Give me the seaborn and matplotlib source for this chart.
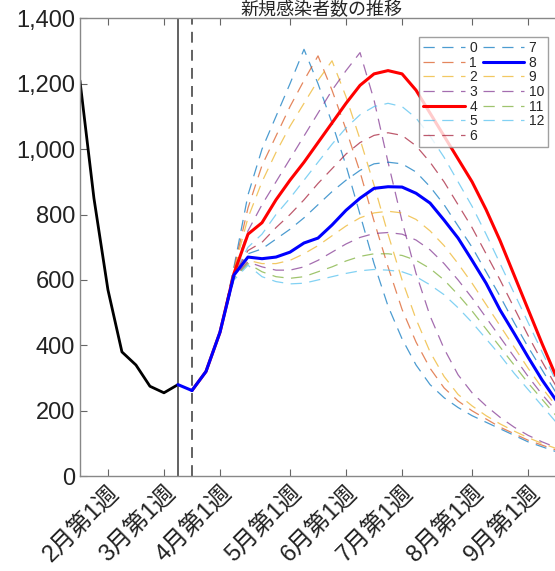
import numpy as np
import pandas as pd
import matplotlib
matplotlib.use("Agg")
import matplotlib.pyplot as plt
import seaborn as sns
from matplotlib.ticker import FuncFormatter

sns.set_style("white")
plt.rcParams['font.family'] = ['Liberation Sans', 'Noto Sans CJK JP', 'DejaVu Sans']

# observed weekly values, week index 0..8
obs_weeks = list(range(0, 9))
observed = [1210, 850, 570, 380, 340, 275, 255, 280, 262]

# scenarios start at week 8
sc_weeks = list(range(8, 35))
common = [262, 320, 440]
scen = {
 '0': common + [640, 860, 1000, 1100, 1200, 1305, 1200, 1080, 950, 800, 650, 520, 420, 340, 280, 240, 210, 185, 165, 145, 125, 105, 90, 75],
 '1': common + [635, 820, 950, 1040, 1130, 1210, 1285, 1180, 1060, 930, 780, 640, 510, 410, 330, 270, 230, 200, 175, 150, 130, 110, 95, 80],
 '2': common + [630, 790, 900, 990, 1070, 1140, 1210, 1270, 1160, 1030, 890, 740, 600, 480, 380, 305, 250, 215, 185, 160, 138, 118, 100, 85],
 '3': common + [625, 750, 830, 900, 970, 1040, 1110, 1180, 1240, 1295, 1150, 960, 780, 620, 490, 390, 310, 255, 215, 180, 150, 125, 105, 88],
 '4': common + [620, 740, 775, 845, 905, 960, 1020, 1080, 1140, 1195, 1230, 1240, 1230, 1180, 1110, 1040, 970, 900, 815, 720, 615, 510, 405, 305],
 '5': common + [620, 700, 740, 800, 850, 905, 960, 1015, 1065, 1105, 1130, 1140, 1130, 1095, 1040, 975, 900, 825, 740, 650, 560, 470, 380, 290],
 '6': common + [615, 690, 715, 760, 800, 845, 895, 940, 985, 1020, 1042, 1050, 1042, 1010, 960, 900, 830, 760, 680, 600, 515, 430, 350, 275],
 '7': common + [612, 680, 695, 725, 755, 790, 830, 870, 905, 935, 955, 960, 955, 930, 885, 830, 765, 700, 625, 550, 470, 395, 325, 255],
 '8': common + [615, 670, 665, 670, 685, 713, 728, 768, 813, 850, 880, 885, 884, 865, 835, 783, 728, 660, 590, 508, 437, 364, 294, 232],
 '9': common + [610, 660, 650, 650, 660, 680, 705, 735, 765, 790, 805, 810, 805, 785, 750, 705, 650, 590, 525, 460, 395, 330, 270, 215],
 '10': common + [608, 655, 640, 630, 630, 640, 660, 685, 710, 730, 742, 745, 740, 722, 692, 650, 600, 545, 485, 425, 365, 305, 250, 200],
 '11': common + [605, 650, 625, 610, 605, 610, 625, 640, 658, 672, 680, 680, 675, 660, 635, 600, 555, 505, 450, 395, 340, 285, 235, 185],
 '12': common + [600, 645, 610, 595, 588, 590, 600, 610, 620, 628, 632, 630, 625, 610, 585, 555, 515, 470, 420, 370, 315, 265, 215, 165],
}
tick_weeks = [2, 6, 10, 15, 19, 23, 28, 32]
tick_labels = ['2月第1週', '3月第1週', '4月第1週', '5月第1週', '6月第1週', '7月第1週', '8月第1週', '9月第1週']

mat = [(0, .447, .741), (.85, .325, .098), (.929, .694, .125), (.494, .184, .556),
       (1, 0, 0), (.301, .745, .933), (.635, .078, .184)]
colors = {'0': mat[0], '1': mat[1], '2': mat[2], '3': mat[3], '4': (1, 0, 0), '5': mat[5],
          '6': mat[6], '7': mat[0], '8': (0, 0, 1), '9': mat[2], '10': mat[3],
          '11': (.466, .674, .188), '12': mat[5]}

fig = plt.figure(figsize=(5.55, 5.71), dpi=100)
ax = fig.add_axes([0.144, 0.166, 0.858, 0.802])

sns.lineplot(x=obs_weeks[:8], y=observed[:8], color='black', lw=2, ax=ax)
for k, v in scen.items():
    if k in ('4', '8'):
        sns.lineplot(x=sc_weeks, y=v, color=colors[k], lw=2.2, ax=ax, label=k, zorder=5)
    else:
        sns.lineplot(x=sc_weeks, y=v, color=colors[k], lw=0.9, ls=(0, (9, 6)), alpha=0.7, ax=ax, label=k)
sns.lineplot(x=[7, 8], y=[280, 262], color=(0, 0, 1), lw=2.2, ax=ax, zorder=5)
ax.axvline(7, color='#555555', lw=1.3)
ax.axvline(8, color='#555555', lw=1.3, ls=(0, (6, 4)))

ax.set_xlim(0, 34)
ax.set_ylim(0, 1400)
ax.set_yticks(range(0, 1401, 200))
ax.yaxis.set_major_formatter(FuncFormatter(lambda v, p: f'{int(v):,}'))
ax.set_xticks(tick_weeks)
ax.set_xticklabels(tick_labels, rotation=45, ha='right', rotation_mode='anchor')
ax.tick_params(axis='both', labelsize=17, direction='in', length=5, color='#666666', colors='#222222')
ax.tick_params(top=True, bottom=True, left=True)
for s in ax.spines.values():
    s.set_color('#888888'); s.set_linewidth(1.0)

leg = ax.legend(ncol=2, loc='upper right', fontsize=10, handlelength=3.0, labelspacing=0.05,
                columnspacing=0.4, handletextpad=0.3, borderpad=0.3, fancybox=False,
                bbox_to_anchor=(0.998, 0.975))
leg.get_frame().set_edgecolor('#888888')
fig.text(0.58, 0.982, '新規感染者数の推移', ha='center', va='center', fontsize=13)

fig.savefig('out.png', dpi=100)
